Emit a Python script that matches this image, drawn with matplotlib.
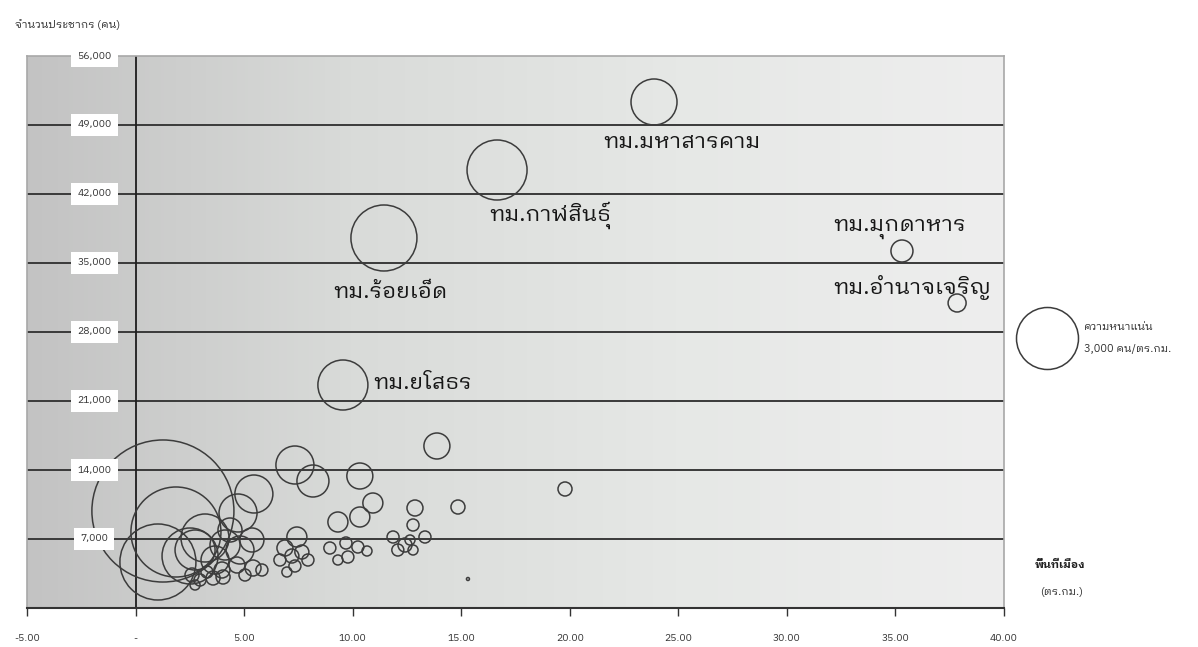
import matplotlib
matplotlib.use("Agg")
import matplotlib.pyplot as plt
import numpy as np
from matplotlib.colors import LinearSegmentedColormap
from matplotlib.lines import Line2D

plt.rcParams['font.family'] = ['IBM Plex Sans Thai Looped', 'Sarabun', 'DejaVu Sans']

# area (sq.km), population, density (people / sq.km)
area = [23.88, 16.65, 11.44, 35.30, 37.84, 9.55,
        13.88, 19.78, 14.85, 15.31, 10.33, 10.93, 10.33, 9.32, 12.87, 12.78,
        13.33, 11.86, 12.41, 12.64, 12.08, 12.78, 7.43, 6.88, 7.20, 7.66,
        6.65, 7.34, 7.94, 6.97, 8.95, 9.69, 10.24, 9.78, 10.66, 9.32,
        7.34, 8.17, 5.45, 4.72, 1.26, 1.86, 1.03, 2.51, 3.20, 2.74,
        4.12, 3.66, 4.81, 5.36, 4.35, 2.60, 2.97, 3.29, 2.74, 3.57,
        3.98, 4.67, 5.41, 4.03, 5.04, 5.82]
population = [51334, 44435, 37537, 36218, 30942, 22623,
              16435, 12073, 10246, 2942, 13391, 10652, 9232, 8725, 10145, 8420,
              7203, 7203, 6391, 6899, 5884, 5884, 7203, 6087, 5275, 5681,
              4870, 4261, 4870, 3652, 6087, 6594, 6188, 5174, 5783, 4870,
              14507, 12884, 11565, 9638, 9841, 7710, 4667, 5275, 7102, 5884,
              6391, 4870, 5884, 6899, 7913, 3348, 2841, 3652, 2333, 3044,
              3855, 4362, 4058, 3145, 3348, 3855]
density = [2226, 2904, 3194, 1065, 871, 2420,
           1258, 678, 678, 145, 1258, 968, 968, 968, 774, 581,
           581, 581, 678, 484, 581, 484, 968, 774, 678, 678,
           581, 581, 581, 484, 581, 581, 581, 581, 484, 484,
           1839, 1549, 1839, 1839, 6873, 4356, 3678, 2710, 2323, 1936,
           1452, 1355, 1355, 1162, 1162, 678, 581, 581, 484, 678,
           774, 774, 774, 678, 581, 581]

# labelled municipalities (first six points)
names = ['ทม.มหาสารคาม', 'ทม.กาฬสินธุ์', 'ทม.ร้อยเอ็ด',
         'ทม.มุกดาหาร', 'ทม.อำนาจเจริญ', 'ทม.ยโสธร']
label_offsets = [(28, -40), (53, -45), (7, -54), (-2, 23), (-45, 16), (80, 2)]

x_ticks = [-5, 0, 5, 10, 15, 20, 25, 30, 35, 40]
y_ticks = [0, 7000, 14000, 21000, 28000, 35000, 42000, 49000, 56000]
legend_density = 3000

DPI = 100
BUBBLE_PX_PER_DENSITY = 62 / 3000.0  # bubble diameter in pixels per (people/sq.km)


def bubble_area_pts(d):
    diam_pts = np.asarray(d) * BUBBLE_PX_PER_DENSITY * 72.0 / DPI
    return diam_pts ** 2


fig = plt.figure(figsize=(11.98, 6.47), dpi=DPI)
ax = fig.add_axes([27 / 1198, 1 - 608 / 647, (1004 - 27) / 1198, (608 - 56) / 647])

# grey gradient plot background
cmap = LinearSegmentedColormap.from_list('bg', ['#c3c3c3', '#d9dbd9', '#e6e8e6', '#eeeeee'])
grad = np.linspace(0, 1, 256).reshape(1, -1)
ax.imshow(grad, extent=[0, 1, 0, 1], transform=ax.transAxes, aspect='auto',
          cmap=cmap, zorder=0)

for yv in y_ticks[1:-1]:
    ax.axhline(yv, color='#3a3a3a', lw=1.4, zorder=1)
ax.axvline(0, color='#1e1e1e', lw=1.3, zorder=1)

ax.scatter(area, population, s=bubble_area_pts(density), facecolors='none',
           edgecolors='#3c3c3c', linewidths=1.1, zorder=3)

for i, name in enumerate(names):
    ax.annotate(name, (area[i], population[i]), xytext=label_offsets[i],
                textcoords='offset pixels', ha='center', va='center',
                fontsize=16, color='#161616', zorder=4)

ax.set_xlim(-5, 40)
ax.set_ylim(0, 56000)
ax.set_xticks(x_ticks)
ax.set_xticklabels(['-' if v == 0 else f'{v:.2f}' for v in x_ticks])
ax.tick_params(axis='x', length=6, width=1, color='#333333', pad=13,
               labelsize=7.5, labelcolor='#333333')
ax.set_yticks(y_ticks)
ax.set_yticklabels([])
ax.tick_params(axis='y', length=0)

# y tick labels sit inside the plot on white boxes
for yv in y_ticks[1:]:
    ax.text(-1.9, yv, f'{yv:,}', ha='center', va='center', fontsize=7.5,
            color='#333333', zorder=5,
            bbox=dict(boxstyle='square,pad=0.6', fc='white', ec='none'))

for side in ['top', 'left', 'right']:
    ax.spines[side].set_color('#a8a8a8')
    ax.spines[side].set_linewidth(1.2)
ax.spines['bottom'].set_color('#333333')
ax.spines['bottom'].set_linewidth(1.5)

fig.text(15 / 1198, 1 - 25 / 647, 'จำนวนประชากร (คน)', fontsize=8,
         ha='left', va='center', color='#333333')
fig.text(1060 / 1198, 1 - 565 / 647, 'พื้นที่เมือง', fontsize=8,
         ha='center', va='center', color='#222222', fontweight='bold')
fig.text(1062 / 1198, 1 - 592 / 647, '(ตร.กม.)', fontsize=8,
         ha='center', va='center', color='#333333')

# legend bubble
leg_handle = Line2D([], [], marker='o', linestyle='none', mfc='none', mec='#3c3c3c',
                    mew=1.1, markersize=np.sqrt(bubble_area_pts(legend_density)))
leg = ax.legend([leg_handle], ['ความหนาแน่น\n3,000 คน/ตร.กม.'], loc='center left',
                bbox_to_anchor=(1014 / 1198, 1 - 338 / 647), bbox_transform=fig.transFigure,
                frameon=False, fontsize=8, handlelength=6.0, handletextpad=0.3,
                borderpad=0, borderaxespad=0, labelspacing=0)
leg.get_texts()[0].set_linespacing(2.6)
leg.get_texts()[0].set_color('#333333')

fig.savefig('out.png', dpi=DPI)
